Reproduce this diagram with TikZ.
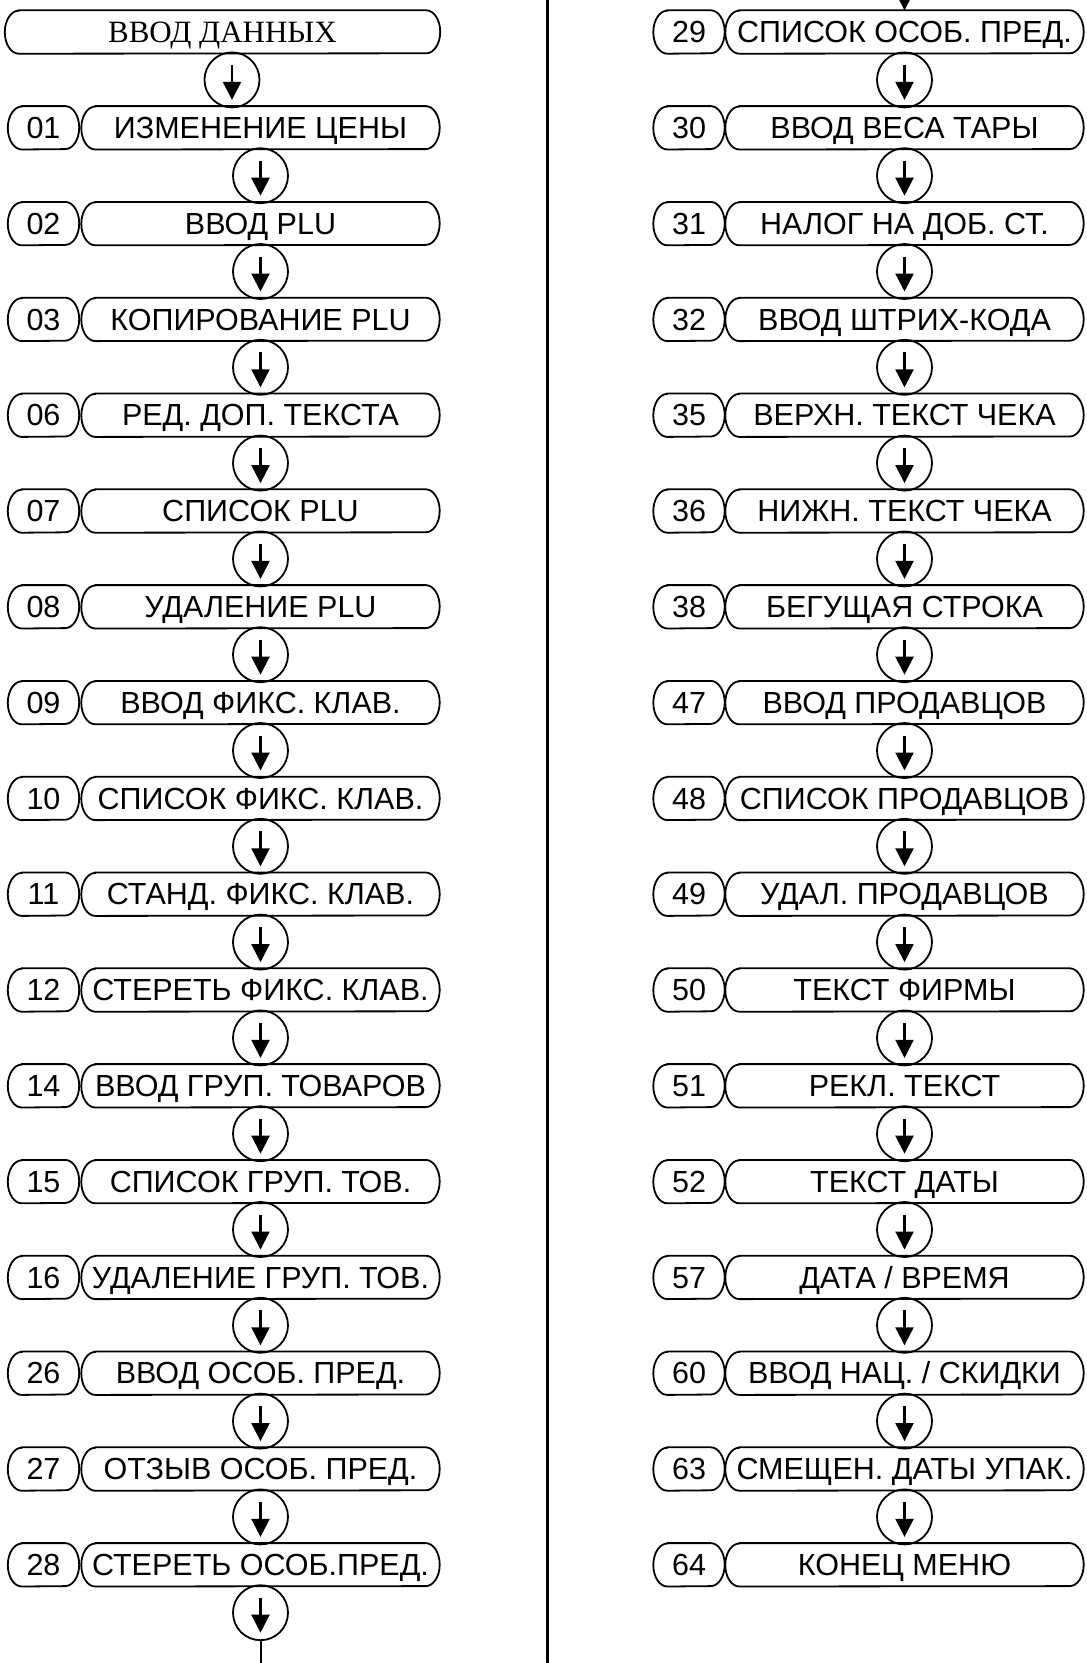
\documentclass[tikz,border=0pt]{standalone}
\usepackage{fontspec}
\setmainfont{Liberation Sans}
\newfontfamily\headfont{Liberation Serif}
\usetikzlibrary{arrows.meta}
\newcommand{\pillframe}[1]{\draw[line width=1.8pt] ([xshift=14pt]#1.north west) -- ([xshift=-14pt]#1.north east) arc[start angle=90,end angle=-90,x radius=14pt,y radius=21.5pt] -- ([xshift=14pt]#1.south west) arc[start angle=270,end angle=90,x radius=14pt,y radius=21.5pt] -- cycle;}
\begin{document}
\begin{tikzpicture}[x=1pt,y=-1pt,
    numbox/.style={minimum width=71pt,minimum height=43pt,inner sep=0pt,text height=21.5pt,text depth=0pt,font=\fontsize{30.5}{30}\selectfont},
    itembox/.style={minimum width=358pt,minimum height=43pt,inner sep=0pt,text height=21.5pt,text depth=0pt,font=\fontsize{30.5}{30}\selectfont},
    stepcirc/.style={circle,draw,line width=1.8pt,minimum size=55pt,inner sep=0pt},
    downarrow/.style={line width=2.2pt,-{Triangle[width=18pt,length=18pt]}}]
    \useasboundingbox (0,0) rectangle (1087,1663);
    \clip (0,0) rectangle (1087,1663);
    \draw[line width=3pt] (547,0) -- (547,1663);
    \node[itembox,minimum width=435pt,text height=20.5pt,font=\headfont\fontsize{31}{31}\selectfont] (head) at (222.5,32) {ВВОД ДАННЫХ};
    \pillframe{head}
    \foreach \num/\txt [count=\k] in {01/ИЗМЕНЕНИЕ ЦЕНЫ, 02/ВВОД PLU, 03/КОПИРОВАНИЕ PLU, 06/РЕД. ДОП. ТЕКСТА, 07/СПИСОК PLU, 08/УДАЛЕНИЕ PLU, 09/ВВОД ФИКС. КЛАВ., 10/СПИСОК ФИКС. КЛАВ., 11/СТАНД. ФИКС. КЛАВ., 12/СТЕРЕТЬ ФИКС. КЛАВ., 14/ВВОД ГРУП. ТОВАРОВ, 15/СПИСОК ГРУП. ТОВ., 16/УДАЛЕНИЕ ГРУП. ТОВ., 26/ВВОД ОСОБ. ПРЕД., 27/ОТЗЫВ ОСОБ. ПРЕД., 28/СТЕРЕТЬ ОСОБ.ПРЕД.}{
        \node[numbox] (n\k) at (43.5,{32+95.8*\k}) {\num};
        \node[itembox] (m\k) at (260.5,{32+95.8*\k}) {\txt};
    }
    \foreach \num/\txt [count=\k from 17] in {29/СПИСОК ОСОБ. ПРЕД., 30/ВВОД ВЕСА ТАРЫ, 31/НАЛОГ НА ДОБ. СТ., 32/ВВОД ШТРИХ-КОДА, 35/ВЕРХН. ТЕКСТ ЧЕКА, 36/НИЖН. ТЕКСТ ЧЕКА, 38/БЕГУЩАЯ СТРОКА, 47/ВВОД ПРОДАВЦОВ, 48/СПИСОК ПРОДАВЦОВ, 49/УДАЛ. ПРОДАВЦОВ, 50/ТЕКСТ ФИРМЫ, 51/РЕКЛ. ТЕКСТ, 52/ТЕКСТ ДАТЫ, 57/ДАТА {/} ВРЕМЯ, 60/ВВОД НАЦ. {/} СКИДКИ, 63/СМЕЩЕН. ДАТЫ УПАК., 64/КОНЕЦ МЕНЮ}{
        \node[numbox] (n\k) at (689,{32+95.8*(\k-17)}) {\num};
        \node[itembox] (m\k) at (904.5,{32+95.8*(\k-17)}) {\txt};
    }
    \foreach \k in {1,...,33}{
        \pillframe{n\k}
        \pillframe{m\k}
    }
    \node[stepcirc] (c0) at (232,79.9) {};
    \foreach \k in {1,...,16}
        \node[stepcirc] (c\k) at (260.5,{79.9+95.8*\k}) {};
    \foreach \k in {17,...,32}
        \node[stepcirc] (c\k) at (904.5,{79.9+95.8*(\k-17)}) {};
    \foreach \k in {0,...,32}
        \draw[downarrow] ([yshift=15pt]c\k.center) -- ([yshift=-20pt]c\k.center);
    \coordinate (exit) at (260.5,1670);
    \coordinate (entry) at (904.5,-20);
    \draw[line width=2pt] (c16.south) -- (exit);
    \draw[downarrow] (entry) -- (m17.north);
\end{tikzpicture}
\end{document}
